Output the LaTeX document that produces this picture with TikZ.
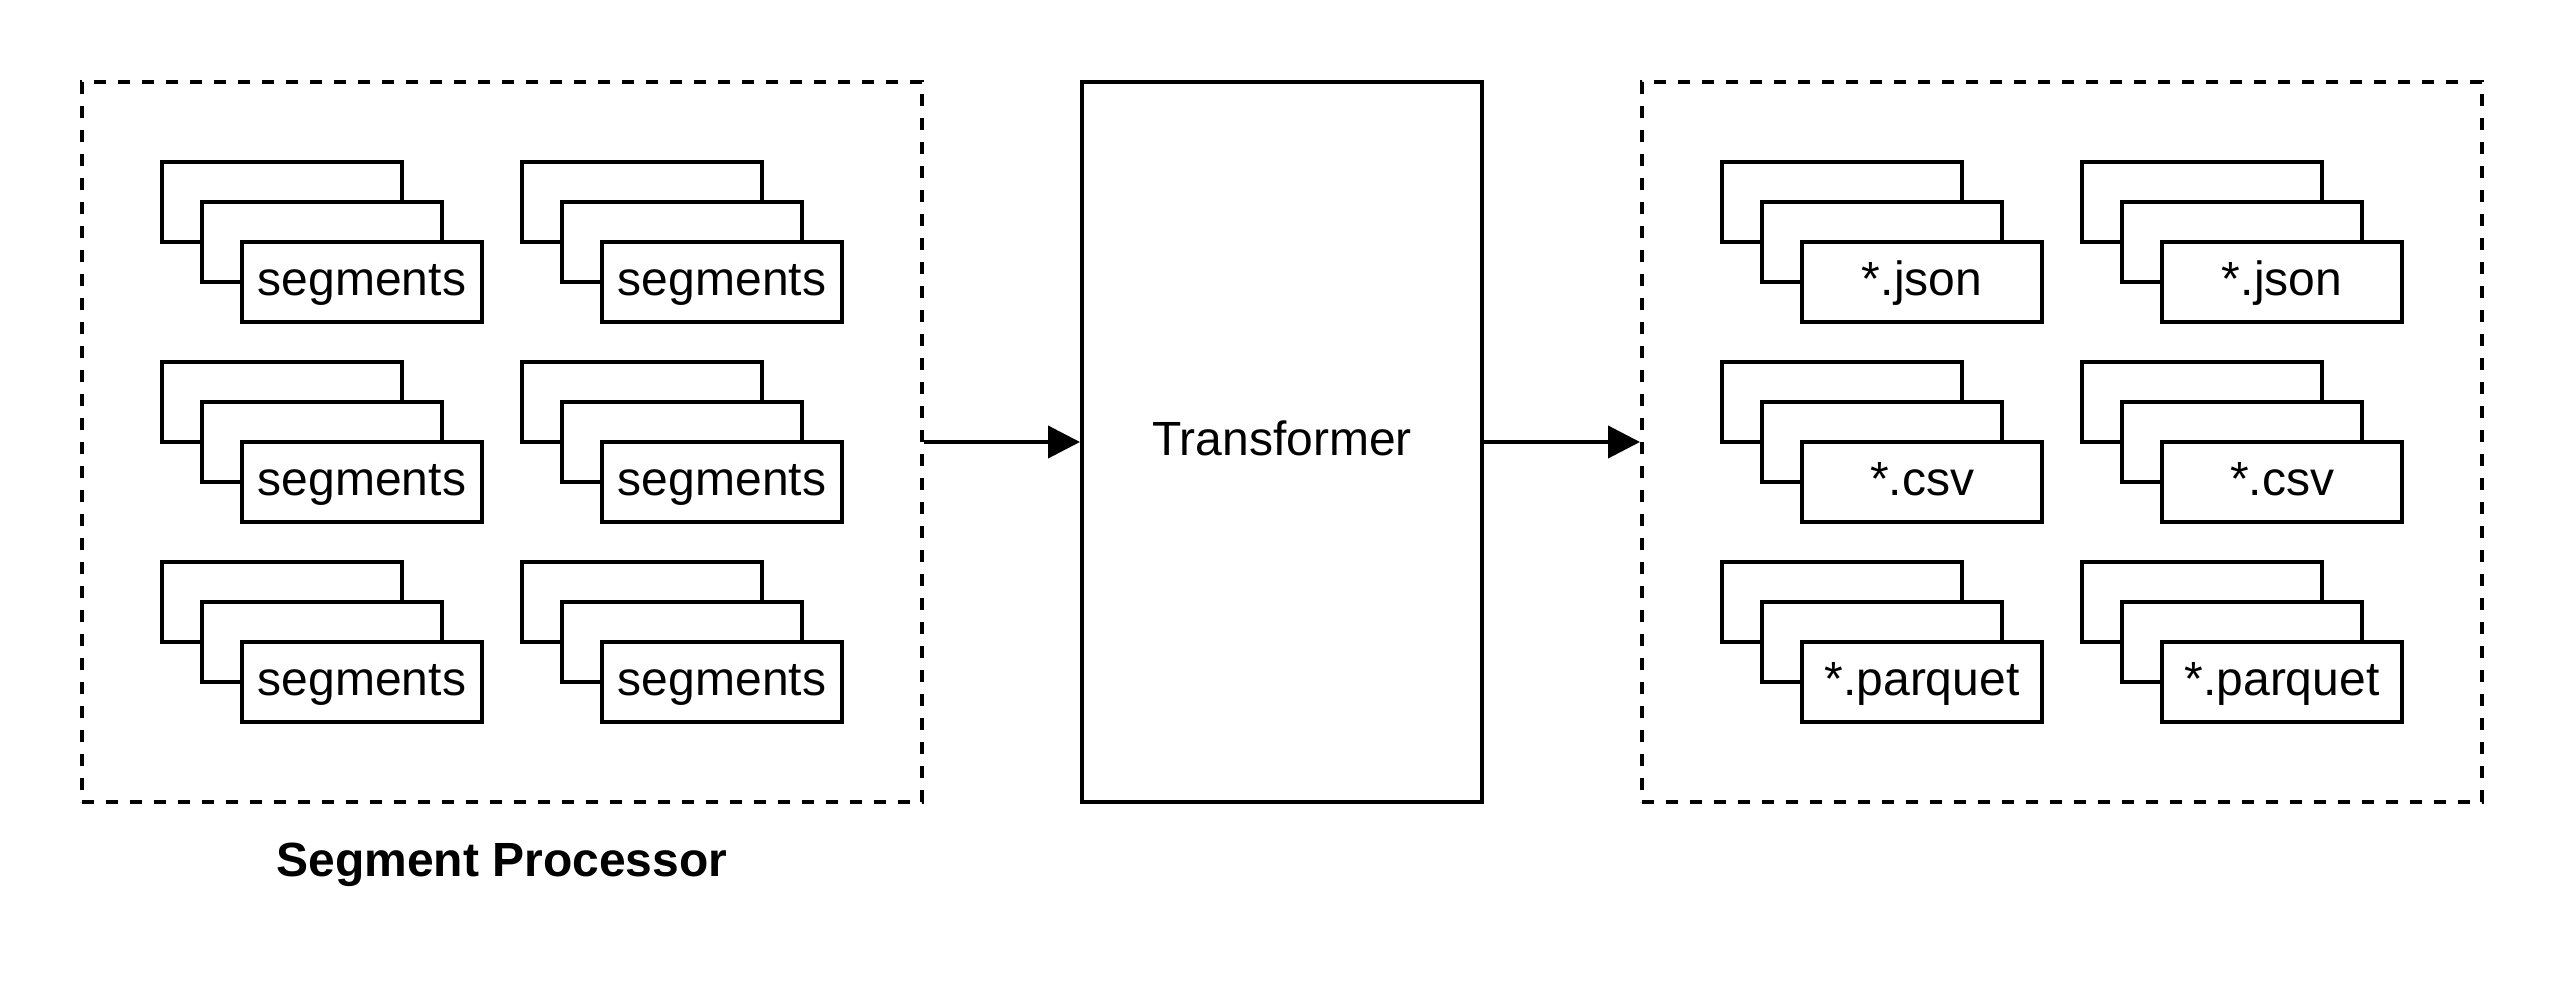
\documentclass[tikz,border=0pt]{standalone}
\usepackage{fontspec}
\setmainfont{Liberation Sans}
\usetikzlibrary{arrows.meta,shadows}

\begin{document}
\begin{tikzpicture}[x=1pt, y=-1pt, line width=2pt,
    every node/.style={font=\fontsize{24}{29}\selectfont, text height=19pt, text depth=5pt},
    group/.style={draw, dash pattern=on 6pt off 6pt, minimum width=420pt, minimum height=360pt},
    filestack/.style={draw, fill=white, inner sep=0pt, minimum width=120pt, minimum height=40pt,
        copy shadow={shadow xshift=-40pt, shadow yshift=40pt, draw=black, fill=white},
        copy shadow={shadow xshift=-20pt, shadow yshift=20pt, draw=black, fill=white}},
    flow/.style={-{Triangle[length=16pt, width=16pt]}}]
    \useasboundingbox (0, 0) rectangle (1282, 502);

    \node[group] (segbox) at (251, 221) {};
    \node[draw, minimum width=200pt, minimum height=360pt] (trans) at (641, 221) {Transformer};
    \node[group] (outbox) at (1031, 221) {};
    \node[font=\fontsize{24}{29}\selectfont\bfseries] (seglabel) at (251, 431) {Segment Processor};

    % segments
    \node[filestack] (seg1) at (181, 141) {segments};
    \node[filestack] (seg2) at (361, 141) {segments};
    \node[filestack] (seg3) at (181, 241) {segments};
    \node[filestack] (seg4) at (361, 241) {segments};
    \node[filestack] (seg5) at (181, 341) {segments};
    \node[filestack] (seg6) at (361, 341) {segments};

    % output files
    \node[filestack] (json1) at (961, 141) {*.json};
    \node[filestack] (json2) at (1141, 141) {*.json};
    \node[filestack] (csv1) at (961, 241) {*.csv};
    \node[filestack] (csv2) at (1141, 241) {*.csv};
    \node[filestack] (parquet1) at (961, 341) {*.parquet};
    \node[filestack] (parquet2) at (1141, 341) {*.parquet};

    \draw[flow] (segbox.east) -- (trans.west);
    \draw[flow] (trans.east) -- (outbox.west);
\end{tikzpicture}
\end{document}
